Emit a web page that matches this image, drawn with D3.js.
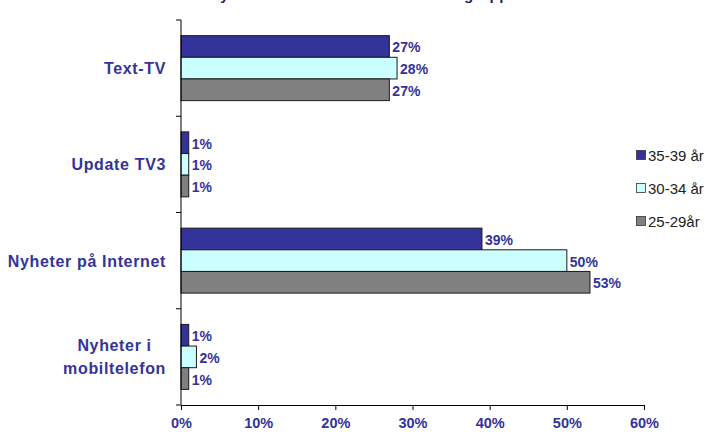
<!DOCTYPE html>
<html>
<head>
<meta charset="utf-8">
<script src="https://cdn.jsdelivr.net/npm/d3@7"></script>
<style>
  html, body { margin: 0; padding: 0; background: #fff; }
  svg { display: block; }
</style>
</head>
<body>
<svg id="chart" width="715" height="439"></svg>
<script>
// Categories, top to bottom
const categories = ["Text-TV", "Update TV3", "Nyheter på Internet", "Nyheter i mobiltelefon"];
// Series (age groups), in drawing order within each group
const seriesNames = ["35-39 år", "30-34 år", "25-29år"];
// Share per category, one array per series
const values3539 = [27, 1, 39, 1];
const values3034 = [28, 1, 50, 2];
const values2529 = [27, 1, 53, 1];
const tickValues = [0, 10, 20, 30, 40, 50, 60];
const titleText = "Nyhetskällor inom de olika åldersgrupper";

const seriesValues = [values3539, values3034, values2529];
const colors = ["#333399", "#ccffff", "#808080"];
const navy = "#333399";
const fontFamily = "Liberation Sans, Arial, sans-serif";

const svg = d3.select("#chart");
const plot = { left: 181, right: 644, top: 20, bottom: 405 };

const x = d3.scaleLinear().domain([0, 60]).range([plot.left, plot.right]);
const y = d3.scaleBand().domain(categories)
  .range([plot.top, plot.bottom]).paddingInner(0.325).paddingOuter(0.1625);
const ySub = d3.scaleBand().domain(seriesNames).range([0, y.bandwidth()]);

// Title (runs off the top edge)
svg.append("text")
  .attr("x", 209).attr("y", 0)
  .attr("font-family", fontFamily)
  .attr("font-weight", "bold").attr("font-size", 15)
  .attr("letter-spacing", 0.5)
  .attr("fill", "#1f1f5f")
  .text(titleText);

// Bars
const groups = svg.append("g").selectAll("g")
  .data(categories).join("g")
  .attr("transform", d => `translate(0,${y(d)})`);

const rows = (c, ci) => seriesNames.map((s, si) => ({ s, si, v: seriesValues[si][ci] }));

groups.selectAll("rect")
  .data(rows)
  .join("rect")
  .attr("x", x(0))
  .attr("y", d => ySub(d.s))
  .attr("width", d => x(d.v) - x(0))
  .attr("height", ySub.bandwidth())
  .attr("fill", d => colors[d.si])
  .attr("stroke", "#1a1a1a").attr("stroke-width", 1);

// Value labels
groups.selectAll("text")
  .data(rows)
  .join("text")
  .attr("x", d => x(d.v) + 3)
  .attr("y", d => ySub(d.s) + ySub.bandwidth() / 2 + 6)
  .attr("font-family", fontFamily)
  .attr("font-weight", "bold").attr("font-size", 14)
  .attr("fill", navy)
  .text(d => d.v + "%");

// Y axis (category ticks at band boundaries)
const yAxis = svg.append("g");
yAxis.append("line")
  .attr("x1", plot.left).attr("x2", plot.left)
  .attr("y1", plot.top).attr("y2", plot.bottom)
  .attr("stroke", "#000");
const boundaries = d3.range(categories.length + 1).map(i => plot.top + i * y.step());
yAxis.selectAll("line.tick").data(boundaries).join("line")
  .attr("class", "tick")
  .attr("x1", plot.left - 5).attr("x2", plot.left)
  .attr("y1", d => d).attr("y2", d => d)
  .attr("stroke", "#000");

// Category labels, block right-aligned to the axis, lines centred
const catLines = {
  "Nyheter i mobiltelefon": ["Nyheter i", "mobiltelefon"]
};
svg.append("g").selectAll("text")
  .data(categories).join("text")
  .attr("text-anchor", "middle")
  .attr("font-family", fontFamily)
  .attr("font-weight", "bold").attr("font-size", 16)
  .attr("letter-spacing", 0.65)
  .attr("fill", navy)
  .each(function (d) {
    const lines = catLines[d] || [d];
    const cy = y(d) + y.bandwidth() / 2;
    const t = d3.select(this);
    const lh = 23;
    lines.forEach((ln, i) => {
      t.append("tspan")
        .attr("x", 0)
        .attr("y", cy + 6 + (i - (lines.length - 1) / 2) * lh)
        .text(ln);
    });
  })
  .attr("transform", function () {
    const w = this.getBBox().width;
    return `translate(${166 - w / 2},0)`;
  });

// X axis
const xAxis = svg.append("g")
  .attr("transform", `translate(0,${plot.bottom})`)
  .call(d3.axisBottom(x).tickValues(tickValues).tickSize(5).tickSizeOuter(0)
    .tickFormat(d => d + "%"));
xAxis.select(".domain").attr("stroke", "#000");
xAxis.selectAll(".tick line").attr("stroke", "#000");
xAxis.selectAll(".tick text")
  .attr("y", 13)
  .attr("font-family", fontFamily)
  .attr("font-weight", "bold").attr("font-size", 14.5)
  .attr("fill", navy);

// Legend
const legend = svg.append("g").attr("transform", "translate(636,0)");
const legendY = [155, 188, 221];
seriesNames.forEach((s, i) => {
  legend.append("rect")
    .attr("x", 0.5).attr("y", legendY[i] - 4.5)
    .attr("width", 9).attr("height", 9)
    .attr("fill", colors[i])
    .attr("stroke", "#333").attr("stroke-width", 0.8);
  legend.append("text")
    .attr("x", 12).attr("y", legendY[i] + 5.5)
    .attr("font-family", fontFamily)
    .attr("font-size", 15)
    .attr("fill", "#222")
    .text(s);
});
</script>
</body>
</html>
